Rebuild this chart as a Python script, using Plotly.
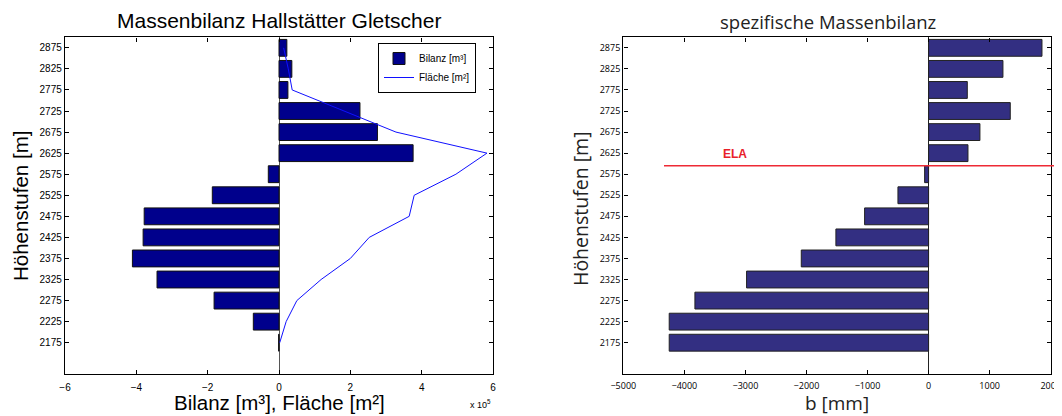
import plotly.graph_objects as go

# ---- data ----
elev = [2175, 2225, 2275, 2325, 2375, 2425, 2475, 2525, 2575, 2625, 2675, 2725, 2775, 2825, 2875]
bilanz_1e5 = [-0.01, -0.72, -1.82, -3.42, -4.11, -3.81, -3.78, -1.87, -0.30, 3.76, 2.76, 2.27, 0.25, 0.36, 0.22]
flaeche_1e5 = [0.02, 0.20, 0.50, 1.18, 2.00, 2.53, 3.65, 3.79, 4.96, 5.83, 3.28, 1.83, 0.37, 0.26, 0.13]
b_mm = [-4248, -4248, -3827, -2981, -2085, -1518, -1048, -502, -65, 645, 841, 1338, 634, 1218, 1857]
ela = 2595
ytick_vals = elev
x1_ticks = [-6, -4, -2, 0, 2, 4, 6]
x2_ticks = [-5000, -4000, -3000, -2000, -1000, 0, 1000, 2000]

# page body has an 8px margin; lay out in window pixels and compensate
OFF = 8
W, H = 1062 - OFF, 416 - OFF


def px(x):
    return (x - OFF) / W


def py(y):
    return 1 - (y - OFF) / H


dom_x1 = [px(65), px(493)]
dom_x2 = [px(623.3), px(1050.7)]
dom_y = [py(374.3), py(37.3)]
y_range = [2100, 2900]

FL = "Liberation Sans, Arial, sans-serif"
FR = "Open Sans, sans-serif"

fig = go.Figure()
fig.add_trace(go.Bar(
    y=elev, x=bilanz_1e5, orientation="h", width=40,
    marker=dict(color="#00008c", line=dict(color="#111111", width=1)),
    name="Bilanz [m³]", xaxis="x", yaxis="y", showlegend=True))
fig.add_trace(go.Scatter(
    y=elev, x=flaeche_1e5, mode="lines",
    line=dict(color="#1010ff", width=1),
    name="Fläche [m²]", xaxis="x", yaxis="y", showlegend=True))
fig.add_trace(go.Bar(
    y=elev, x=b_mm, orientation="h", width=40,
    marker=dict(color="#332f82", line=dict(color="#222222", width=1)),
    name="b", xaxis="x2", yaxis="y2", showlegend=False))

axis_common = dict(showline=True, linecolor="black", linewidth=1.4, mirror="ticks",
                   ticks="inside", ticklen=4, tickcolor="black", showgrid=False,
                   automargin=False)

fig.update_layout(
    width=W, height=H, margin=dict(l=0, r=0, t=0, b=0, autoexpand=False),
    paper_bgcolor="white", plot_bgcolor="white",
    barmode="overlay",
    xaxis=dict(domain=dom_x1, range=[-6, 6], tickvals=x1_ticks, anchor="y",
               tickfont=dict(family=FL, size=10, color="black"), ticklabelstandoff=3,
               zeroline=True, zerolinewidth=1, zerolinecolor="#555555", **axis_common),
    yaxis=dict(domain=dom_y, range=y_range, tickvals=ytick_vals, anchor="x",
               tickfont=dict(family=FL, size=10, color="black"),
               zeroline=False, **axis_common),
    xaxis2=dict(domain=dom_x2, range=[-5000, 2000], tickvals=x2_ticks, anchor="y2",
                tickfont=dict(family=FR, size=9, color="black"), ticklabelstandoff=3,
                zeroline=True, zerolinewidth=1, zerolinecolor="#222222", **axis_common),
    yaxis2=dict(domain=dom_y, range=y_range, tickvals=ytick_vals, anchor="x2",
                tickfont=dict(family=FR, size=9, color="black"),
                zeroline=False, **axis_common),
    legend=dict(x=px(378), y=py(43), xanchor="left", yanchor="top",
                bgcolor="white", bordercolor="black", borderwidth=1,
                font=dict(family=FL, size=10, color="black"),
                tracegroupgap=0, itemwidth=30),
    showlegend=True,
)

# ELA line (paper coords derived from axis mapping)
ela_py = dom_y[0] + (ela - y_range[0]) / (y_range[1] - y_range[0]) * (dom_y[1] - dom_y[0])
fig.add_shape(type="line", xref="paper", yref="paper",
              x0=px(664), x1=px(1057), y0=ela_py, y1=ela_py,
              line=dict(color="#ee2a35", width=1.5))

ann = [
    dict(text="Massenbilanz Hallstätter Gletscher", x=px(279), y=py(20),
         font=dict(family=FL, size=21, color="black")),
    dict(text="Höhenstufen [m]", x=px(20), y=py(206), textangle=-90,
         font=dict(family=FL, size=20.5, color="black")),
    dict(text="Bilanz [m³], Fläche [m²]", x=px(279), y=py(402),
         font=dict(family=FL, size=20.5, color="black")),
    dict(text="x 10<sup>5</sup>", x=px(480), y=py(404),
         font=dict(family=FL, size=9, color="black")),
    dict(text="spezifische Massenbilanz", x=px(828), y=py(21),
         font=dict(family=FR, size=18.5, color="#222222")),
    dict(text="Höhenstufen [m]", x=px(580), y=py(209), textangle=-90,
         font=dict(family=FR, size=19.5, color="#222222")),
    dict(text="b [mm]", x=px(837), y=py(403),
         font=dict(family=FR, size=19, color="#222222")),
    dict(text="<b>ELA</b>", x=px(735), y=py(154),
         font=dict(family=FL, size=12, color="#e8202a")),
]
for a in ann:
    fig.add_annotation(xref="paper", yref="paper", showarrow=False,
                       xanchor="center", yanchor="middle", **a)

fig.write_html("out.html")
